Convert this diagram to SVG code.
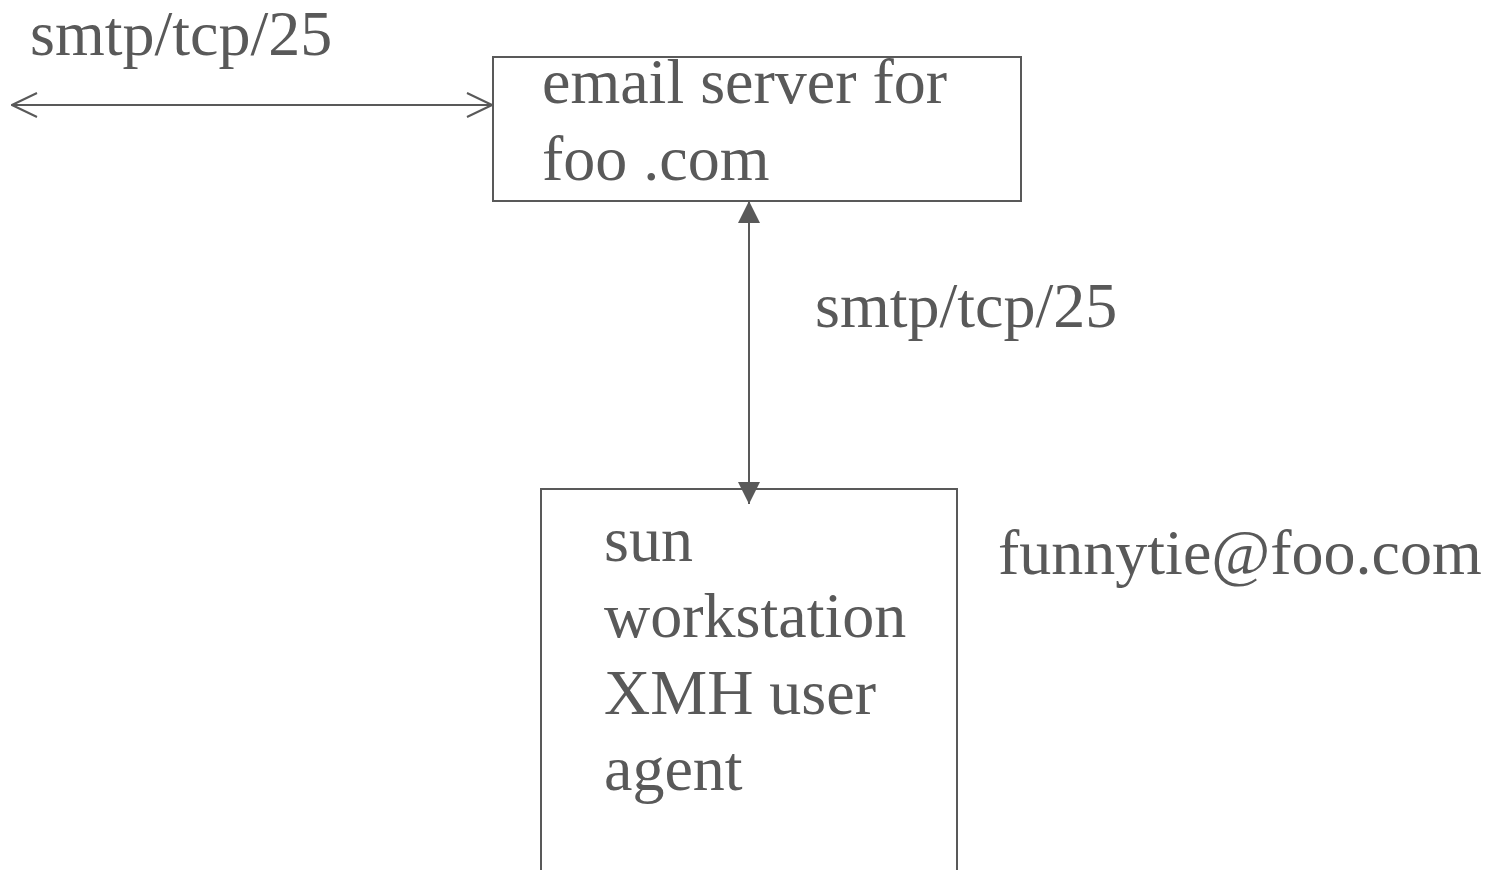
<svg xmlns="http://www.w3.org/2000/svg" width="1487" height="870" viewBox="0 0 1487 870">
<style>
.t{font-family:"Liberation Serif","Times New Roman",serif;font-size:64px;fill:#595959}
.box{fill:none;stroke:#595959;stroke-width:2}
.ln{stroke:#595959;stroke-width:2;fill:none}
</style>
<defs>
<marker id="open" viewBox="0 0 27 26" refX="26" refY="13" markerWidth="27" markerHeight="26" markerUnits="userSpaceOnUse" orient="auto-start-reverse">
<path d="M1,1 L26,13 L1,25" fill="none" stroke="#595959" stroke-width="2"/>
</marker>
<marker id="tri" viewBox="0 0 22 22" refX="22" refY="11" markerWidth="22" markerHeight="22" markerUnits="userSpaceOnUse" orient="auto-start-reverse">
<path d="M0,0 L22,11 L0,22 Z" fill="#595959"/>
</marker>
</defs>
<rect width="1487" height="870" fill="#fff"/>
<g id="connectors">
<line class="ln" x1="12" y1="105" x2="492" y2="105" marker-start="url(#open)" marker-end="url(#open)"/>
<line class="ln" x1="749" y1="201" x2="749" y2="504" marker-start="url(#tri)" marker-end="url(#tri)"/>
</g>
<g id="server">
<rect class="box" x="493" y="57" width="528" height="144"/>
<text class="t" x="542" y="103">email server for</text>
<text class="t" x="542" y="180">foo .com</text>
</g>
<g id="workstation">
<rect class="box" x="541" y="489" width="416" height="400"/>
<text class="t" x="604" y="561">sun</text>
<text class="t" x="604" y="637">workstation</text>
<text class="t" x="604" y="714">XMH user</text>
<text class="t" x="604" y="790">agent</text>
</g>
<g id="labels">
<text class="t" x="30" y="55">smtp/tcp/25</text>
<text class="t" x="815" y="327">smtp/tcp/25</text>
<text class="t" x="998" y="574">funnytie@foo.com</text>
</g>
</svg>
